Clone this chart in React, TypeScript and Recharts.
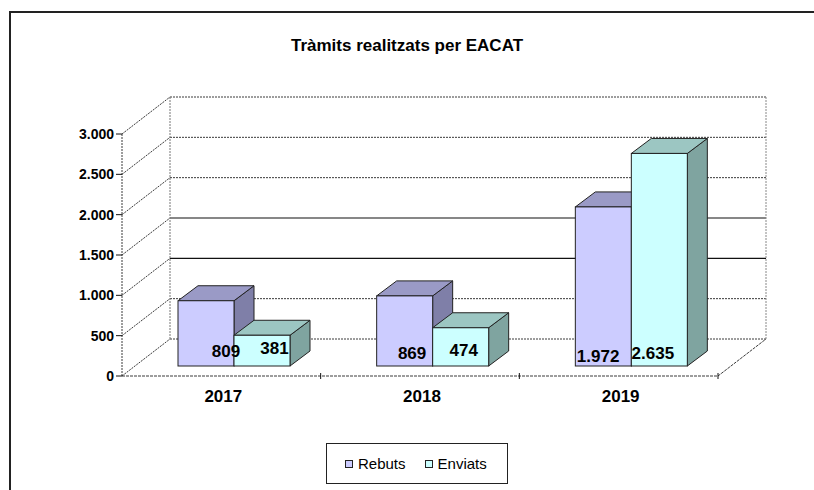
import React from 'react';
import { BarChart, Bar, XAxis, YAxis, CartesianGrid, LabelList, Legend, ReferenceArea } from 'recharts';

const title = 'Tràmits realitzats per EACAT';
const categories = ['2017', '2018', '2019'];
const rebutsValues = [809, 869, 1972];
const enviatsValues = [381, 474, 2635];
const seriesOrder = ['Rebuts', 'Enviats'];
const yTicks = [0, 500, 1000, 1500, 2000, 2500, 3000];
const solidGridValues = [1000, 1500];

const data = categories.map((c, i) => ({ year: c, Rebuts: rebutsValues[i], Enviats: enviatsValues[i] }));

const W = 814;
const H = 490;
const WALL_DX = 48;
const WALL_DY = 37;
const BAR_SX = 13;
const BAR_SY = -10;
const DEPTH_DX = 20;
const DEPTH_DY = 15;
const FONT = '"Liberation Sans", Arial, Helvetica, sans-serif';
const EDGE = '#222';
const DOT = '#3a3a3a';

const COLORS: Record<string, { front: string; top: string; side: string }> = {
  Rebuts: { front: '#CCCCFF', top: '#9A9AC6', side: '#7F7FA8' },
  Enviats: { front: '#CCFFFF', top: '#9CC6C2', side: '#7FA4A0' },
};

const fmt = (v: number) => String(v).replace(/\B(?=(\d{3})+(?!\d))/g, '.');

const makeBox = (c: { front: string; top: string; side: string }) => (props: any) => {
  const { x, y, width, height } = props;
  if (x == null || width == null || height == null) return <g />;
  const fx = x + BAR_SX;
  const fy = y + BAR_SY;
  const w = width;
  const h = height;
  const top = `${fx},${fy} ${fx + DEPTH_DX},${fy - DEPTH_DY} ${fx + w + DEPTH_DX},${fy - DEPTH_DY} ${fx + w},${fy}`;
  const side = `${fx + w},${fy} ${fx + w + DEPTH_DX},${fy - DEPTH_DY} ${fx + w + DEPTH_DX},${fy + h - DEPTH_DY} ${fx + w},${fy + h}`;
  return (
    <g>
      <polygon points={side} fill={c.side} stroke={EDGE} strokeWidth={1} strokeLinejoin="round" />
      <polygon points={top} fill={c.top} stroke={EDGE} strokeWidth={1} strokeLinejoin="round" />
      <rect x={fx} y={fy} width={w} height={h} fill={c.front} stroke={EDGE} strokeWidth={1} />
    </g>
  );
};

const makeLabel = (dx0: number, kx: number, dy0: number, ky: number) => (props: any) => {
  const vb = props.viewBox && props.viewBox.width != null ? props.viewBox : props;
  const { x, y, width, height } = vb;
  const index = props.index ?? 0;
  if (x == null) return null;
  const cx = x + BAR_SX + width / 2 + dx0 - kx * index;
  const cy = y + height + BAR_SY + dy0 + ky * index;
  return (
    <text x={cx} y={cy} textAnchor="middle" dominantBaseline="central" fontFamily={FONT} fontWeight="bold" fontSize={17} fill="#000">
      {fmt(Number(props.value))}
    </text>
  );
};

const gridLine = (props: any) => {
  const { x1, y1, x2, index } = props;
  let value: number | null = null;
  if (props.y != null && props.height) {
    const frac = (props.y + props.height - y1) / props.height;
    value = Math.round((yTicks[0] + frac * (yTicks[yTicks.length - 1] - yTicks[0])) / 50) * 50;
  }
  const solid = value != null ? solidGridValues.includes(value) : index === 2 || index === 3;
  return (
    <g key={`gl-${index}`}>
      <line x1={x1} y1={y1} x2={x1 + WALL_DX} y2={y1 - WALL_DY} stroke={DOT} strokeWidth={1} strokeDasharray="2 1" />
      <line
        x1={x1 + WALL_DX}
        y1={y1 - WALL_DY}
        x2={x2 + WALL_DX}
        y2={y1 - WALL_DY}
        stroke={solid ? '#111' : DOT}
        strokeWidth={solid ? 1.2 : 1}
        strokeDasharray={solid ? undefined : '2 1'}
      />
    </g>
  );
};

const frameShape = (props: any) => {
  const { x, y, width, height } = props;
  if (x == null) return <g />;
  const bx = x + WALL_DX;
  const by = y - WALL_DY;
  return (
    <g>
      <line x1={bx} y1={by} x2={bx} y2={by + height} stroke="#777" strokeWidth={1} strokeDasharray="2 1" />
      <line x1={bx + width} y1={by} x2={bx + width} y2={by + height} stroke="#888" strokeWidth={1} strokeDasharray="2 1" />
      <line x1={x + width} y1={y + height} x2={bx + width} y2={by + height} stroke={DOT} strokeWidth={1} strokeDasharray="3 1" />
    </g>
  );
};

const YTick = (props: any) => {
  const { x, y, payload } = props;
  return (
    <text x={x} y={y} textAnchor="end" dominantBaseline="central" fontFamily={FONT} fontWeight="bold" fontSize={14} fill="#000">
      {fmt(Number(payload.value))}
    </text>
  );
};

const XTick = (props: any) => {
  const { x, y, payload, index, visibleTicksCount } = props;
  const off = payload && payload.offset ? payload.offset : 0;
  const last = index === (visibleTicksCount ?? categories.length) - 1;
  return (
    <g>
      {index > 0 && <line x1={x - off} y1={y - 3} x2={x - off} y2={y + 3} stroke="#111" strokeWidth={1} />}
      {last && <line x1={x + off} y1={y - 3} x2={x + off} y2={y + 3} stroke="#111" strokeWidth={1} />}
      <text x={x + 2} y={y + 20} textAnchor="middle" dominantBaseline="central" fontFamily={FONT} fontWeight="bold" fontSize={17} fill="#000">
        {payload.value}
      </text>
    </g>
  );
};

const LegendContent = (props: any) => {
  const items = [...(props.payload || [])].sort(
    (a: any, b: any) => seriesOrder.indexOf(a.value) - seriesOrder.indexOf(b.value)
  );
  return (
    <div
      style={{
        boxSizing: 'border-box',
        width: 182,
        height: 41,
        border: '1.5px solid #222',
        display: 'flex',
        alignItems: 'center',
        paddingLeft: 18,
        fontFamily: FONT,
        fontSize: 15,
        color: '#000',
        background: '#fff',
      }}
    >
      {items.map((it: any, i: number) => (
        <span key={i} style={{ display: 'inline-flex', alignItems: 'center', marginRight: 19 }}>
          <span style={{ display: 'inline-block', width: 6, height: 6, border: '1px solid #222', background: it.color, marginRight: 5 }} />
          {it.value}
        </span>
      ))}
    </div>
  );
};

export default function App() {
  return (
    <div style={{ position: 'absolute', left: 0, top: 0, width: W, height: H, overflow: 'hidden', background: '#fff' }}>
      <div
        style={{
          position: 'absolute',
          left: 9,
          top: 11,
          width: 900,
          height: 600,
          borderLeft: '2px solid #222',
          borderTop: '2px solid #222',
        }}
      />
      <div
        style={{
          position: 'absolute',
          left: 0,
          top: 35,
          width: W,
          textAlign: 'center',
          fontFamily: FONT,
          fontWeight: 'bold',
          fontSize: 17,
          lineHeight: '22px',
          color: '#000',
        }}
      >
        {title}
      </div>
      <div style={{ position: 'absolute', left: 0, top: 0 }}>
        <BarChart
          width={W}
          height={H}
          data={data}
          margin={{ top: 134, right: 96, left: 62, bottom: 84 }}
          barGap={0}
          barSize={56}
        >
          <CartesianGrid vertical={false} horizontal={gridLine} />
          <ReferenceArea y1={0} y2={3000} shape={frameShape} ifOverflow="visible" />
          <XAxis
            dataKey="year"
            height={30}
            axisLine={{ stroke: DOT, strokeDasharray: '3 1' }}
            tickLine={false}
            tickSize={0}
            tickMargin={0}
            tick={XTick}
            interval={0}
          />
          <YAxis
            width={60}
            domain={[0, 3000]}
            ticks={yTicks}
            interval={0}
            axisLine={{ stroke: DOT, strokeDasharray: '2 1' }}
            tickLine={{ stroke: '#111' }}
            tickSize={6}
            tickMargin={2}
            tick={YTick}
          />
          <Legend
            layout="horizontal"
            verticalAlign="middle"
            align="center"
            wrapperStyle={{ position: 'absolute', left: 326, top: 443, width: 182, height: 41 }}
            content={LegendContent}
          />
          <Bar dataKey="Rebuts" name="Rebuts" fill={COLORS.Rebuts.front} shape={makeBox(COLORS.Rebuts)} isAnimationActive={false}>
            <LabelList dataKey="Rebuts" content={makeLabel(20, 12.6, -15, 2.5)} />
          </Bar>
          <Bar dataKey="Enviats" name="Enviats" fill={COLORS.Enviats.front} shape={makeBox(COLORS.Enviats)} isAnimationActive={false}>
            <LabelList dataKey="Enviats" content={makeLabel(12.5, 9.5, -18, 2.6)} />
          </Bar>
        </BarChart>
      </div>
    </div>
  );
}
